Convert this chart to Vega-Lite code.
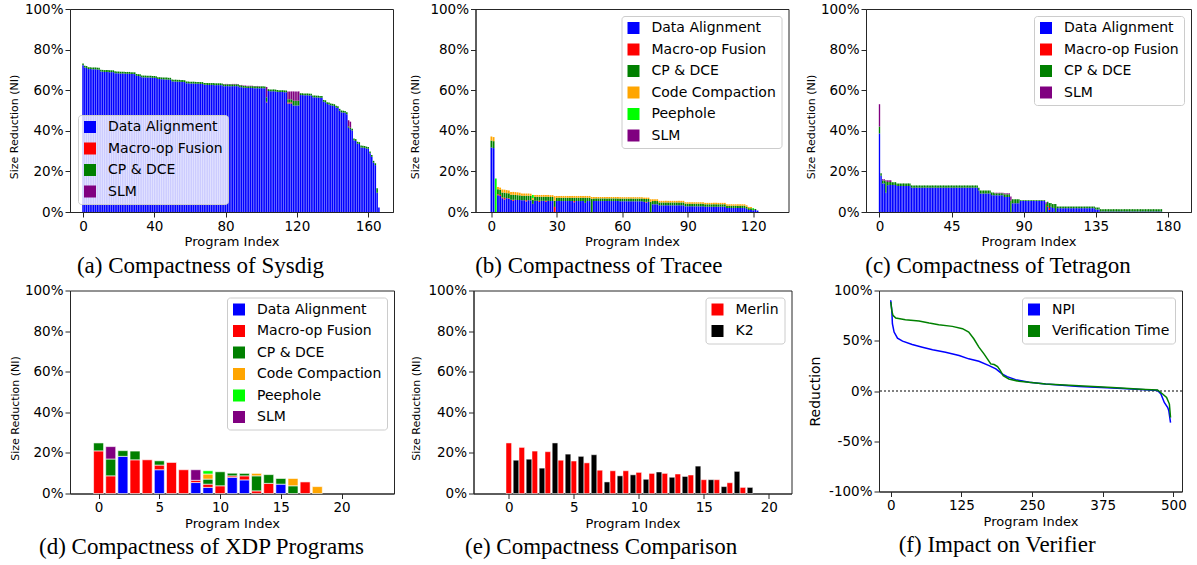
{
"$schema":"https://vega.github.io/schema/vega-lite/v6.json",
"padding":{"left":7,"top":1,"right":0,"bottom":0},
"spacing":4.5,
"resolve":{"scale":{"color":"independent"},"legend":{"color":"independent"}},
"config":{
 "font":"DejaVu Sans",
 "view":{"stroke":"#262626","strokeWidth":1},
 "axis":{"grid":false,"domainColor":"#262626","tickColor":"#262626","labelColor":"black","titleColor":"black","labelFont":"DejaVu Sans","titleFont":"DejaVu Sans","labelFontSize":13.5,"titleFontSize":13,"titleFontWeight":"normal","tickSize":5,"labelPadding":2,"labelFlush":false,"labelOverlap":false},
 "axisX":{"titlePadding":3},
 "axisY":{"titleFontSize":11},
 "legend":{"offset":7.3,"padding":5,"strokeColor":"#cccccc","fillColor":"rgba(255,255,255,0.8)","cornerRadius":3,"symbolType":"square","symbolSize":144,"symbolStrokeWidth":0,"labelFont":"DejaVu Sans","labelFontSize":14,"labelColor":"black","labelOffset":11,"rowPadding":7.5},
 "title":{"font":"Liberation Serif","fontSize":23,"fontWeight":"normal","color":"black","orient":"bottom","frame":"bounds","anchor":"middle","offset":6}
},
"datasets":{
"sysdig":[
{"i":0,"k1":72.3,"k3":0.9},{"i":1,"k1":71.2,"k3":0.9},{"i":2,"k1":71.0,"k3":0.9},{"i":3,"k1":70.4,"k3":0.9},{"i":4,"k1":70.4,"k3":0.9},{"i":5,"k1":70.3,"k3":0.9},{"i":6,"k1":70.3,"k3":0.9},{"i":7,"k1":70.3,"k3":0.9},{"i":8,"k1":70.2,"k3":0.9},{"i":9,"k1":70.1,"k3":0.9},
{"i":10,"k1":69.2,"k3":0.9},{"i":11,"k1":69.1,"k3":0.9},{"i":12,"k1":69.0,"k3":0.9},{"i":13,"k1":69.0,"k3":0.9},{"i":14,"k1":69.0,"k3":0.9},{"i":15,"k1":68.9,"k3":0.9},{"i":16,"k1":68.9,"k3":0.9},{"i":17,"k1":68.9,"k3":0.9},{"i":18,"k1":68.4,"k3":0.9},{"i":19,"k1":68.3,"k3":0.9},
{"i":20,"k1":68.3,"k3":0.9},{"i":21,"k1":68.2,"k3":0.9},{"i":22,"k1":68.2,"k3":0.9},{"i":23,"k1":68.2,"k3":0.9},{"i":24,"k1":68.1,"k3":0.9},{"i":25,"k1":68.1,"k3":0.9},{"i":26,"k1":68.1,"k3":0.9},{"i":27,"k1":68.0,"k3":0.9},{"i":28,"k1":68.0,"k3":0.9},{"i":29,"k1":67.9,"k3":0.9},
{"i":30,"k1":67.1,"k3":0.9},{"i":31,"k1":67.0,"k3":0.9},{"i":32,"k1":66.9,"k3":0.9},{"i":33,"k1":66.4,"k3":0.9},{"i":34,"k1":66.3,"k3":0.9},{"i":35,"k1":66.3,"k3":0.9},{"i":36,"k1":66.2,"k3":0.9},{"i":37,"k1":66.2,"k3":0.9},{"i":38,"k1":66.2,"k3":0.9},{"i":39,"k1":66.1,"k3":0.9},
{"i":40,"k1":66.1,"k3":0.9},{"i":41,"k1":66.0,"k3":0.9},{"i":42,"k1":65.5,"k3":0.9},{"i":43,"k1":65.5,"k3":0.9},{"i":44,"k1":65.4,"k3":0.9},{"i":45,"k1":65.4,"k3":0.9},{"i":46,"k1":65.3,"k3":0.9},{"i":47,"k1":65.3,"k3":0.9},{"i":48,"k1":65.2,"k3":0.9},{"i":49,"k1":65.2,"k3":0.9},
{"i":50,"k1":64.4,"k3":0.9},{"i":51,"k1":64.3,"k3":0.9},{"i":52,"k1":64.3,"k3":0.9},{"i":53,"k1":64.2,"k3":0.9},{"i":54,"k1":64.2,"k3":0.9},{"i":55,"k1":64.1,"k3":0.9},{"i":56,"k1":64.1,"k3":0.9},{"i":57,"k1":64.0,"k3":0.9},{"i":58,"k1":63.4,"k3":0.9},{"i":59,"k1":63.4,"k3":0.9},
{"i":60,"k1":63.3,"k3":0.9},{"i":61,"k1":63.3,"k3":0.9},{"i":62,"k1":63.3,"k3":0.9},{"i":63,"k1":63.2,"k3":0.9},{"i":64,"k1":63.2,"k3":0.9},{"i":65,"k1":63.2,"k3":0.9},{"i":66,"k1":63.1,"k3":0.9},{"i":67,"k1":63.1,"k3":0.9},{"i":68,"k1":62.7,"k3":0.9},{"i":69,"k1":62.7,"k3":0.9},
{"i":70,"k1":62.6,"k3":0.9},{"i":71,"k1":62.6,"k3":0.9},{"i":72,"k1":62.6,"k3":0.9},{"i":73,"k1":62.6,"k3":0.9},{"i":74,"k1":62.5,"k3":0.9},{"i":75,"k1":62.5,"k3":0.9},{"i":76,"k1":62.5,"k3":0.9},{"i":77,"k1":62.5,"k3":0.9},{"i":78,"k1":62.4,"k3":0.9},{"i":79,"k1":62.0,"k3":0.9,"k6":0.2},
{"i":80,"k1":62.0,"k3":0.9,"k6":0.2},{"i":81,"k1":62.0,"k3":0.9,"k6":0.2},{"i":82,"k1":62.0,"k3":0.9,"k6":0.2},{"i":83,"k1":62.0,"k3":0.9,"k6":0.2},{"i":84,"k1":62.0,"k3":0.9,"k6":0.2},{"i":85,"k1":62.0,"k3":0.9,"k6":0.2},{"i":86,"k1":62.0,"k3":0.9,"k6":0.2},{"i":87,"k1":62.0,"k3":0.9,"k6":0.2},{"i":88,"k1":61.5,"k3":0.9,"k6":0.2},{"i":89,"k1":61.5,"k3":0.9,"k6":0.2},
{"i":90,"k1":61.2,"k3":0.9,"k6":0.2},{"i":91,"k1":61.2,"k3":0.9,"k6":0.2},{"i":92,"k1":61.1,"k3":0.9,"k6":0.2},{"i":93,"k1":61.1,"k3":0.9,"k6":0.2},{"i":94,"k1":61.1,"k3":0.9,"k6":0.2},{"i":95,"k1":61.1,"k3":0.9,"k6":0.2},{"i":96,"k1":61.0,"k3":0.9,"k6":0.2},{"i":97,"k1":61.0,"k3":0.9,"k6":0.2},{"i":98,"k1":61.0,"k3":0.9,"k6":0.2},{"i":99,"k1":60.9,"k3":0.9,"k6":0.2},
{"i":100,"k1":61.0,"k3":0.9},{"i":101,"k1":61.0,"k3":0.9},{"i":102,"k1":60.9,"k3":0.9},{"i":103,"k1":54.0,"k2":0.3,"k3":2.2,"k6":5.1},{"i":104,"k1":59.6,"k3":0.9},{"i":105,"k1":59.5,"k3":0.9},{"i":106,"k1":59.5,"k3":0.9},{"i":107,"k1":59.5,"k3":0.9},{"i":108,"k1":59.4,"k3":0.9},{"i":109,"k1":59.2,"k3":0.9},
{"i":110,"k1":59.1,"k3":0.9},{"i":111,"k1":59.1,"k3":0.9},{"i":112,"k1":59.1,"k3":0.9},{"i":113,"k1":59.0,"k3":0.9},{"i":114,"k1":59.0,"k3":0.9},{"i":115,"k1":53.5,"k2":0.5,"k3":1.5,"k6":3.9},{"i":116,"k1":53.5,"k2":0.5,"k3":1.5,"k6":3.9},{"i":117,"k1":53.5,"k2":0.5,"k3":1.5,"k6":3.9},{"i":118,"k1":52.5,"k3":2.3,"k6":4.6},{"i":119,"k1":52.5,"k3":2.3,"k6":4.6},
{"i":120,"k1":52.5,"k3":2.3,"k6":4.6},{"i":121,"k1":52.5,"k3":2.3,"k6":4.6},{"i":122,"k1":57.6,"k3":0.9},{"i":123,"k1":57.6,"k3":0.9},{"i":124,"k1":57.5,"k3":0.9},{"i":125,"k1":57.5,"k3":0.9},{"i":126,"k1":57.5,"k3":0.9},{"i":127,"k1":57.4,"k3":0.9},{"i":128,"k1":57.4,"k3":0.9},{"i":129,"k1":56.5,"k3":0.9},
{"i":130,"k1":56.5,"k3":0.9},{"i":131,"k1":56.4,"k3":0.9},{"i":132,"k1":56.4,"k3":0.9},{"i":133,"k1":56.3,"k3":0.9},{"i":134,"k1":56.3,"k3":0.9},{"i":135,"k1":54.3,"k3":0.9},{"i":136,"k1":54.1,"k3":0.9},{"i":137,"k1":53.2,"k3":0.9},{"i":138,"k1":53.0,"k3":0.9},{"i":139,"k1":52.6,"k3":0.9},
{"i":140,"k1":52.4,"k3":0.9},{"i":141,"k1":52.2,"k3":0.9},{"i":142,"k1":51.5,"k3":0.9},{"i":143,"k1":51.2,"k3":0.9},{"i":144,"k1":49.9,"k3":0.9},{"i":145,"k1":49.1,"k3":0.9},{"i":146,"k1":49.0,"k3":0.9},{"i":147,"k1":48.9,"k3":0.9},{"i":148,"k1":48.2,"k3":0.9},{"i":149,"k1":41.5,"k3":0.7,"k6":3.0},
{"i":150,"k1":40.8,"k3":0.7,"k6":3.0},{"i":151,"k1":40.1,"k3":0.9},{"i":152,"k1":35.3,"k3":0.9},{"i":153,"k1":35.0,"k3":0.9},{"i":154,"k1":33.7,"k3":0.9},{"i":155,"k1":33.5,"k3":0.9},{"i":156,"k1":31.8,"k3":0.9},{"i":157,"k1":31.7,"k3":0.9},{"i":158,"k1":31.6,"k3":0.9},{"i":159,"k1":31.3,"k3":0.9},
{"i":160,"k1":31.1,"k3":0.9},{"i":161,"k1":28.9,"k3":0.9},{"i":162,"k1":27.2,"k3":0.9},{"i":163,"k1":24.3,"k3":0.9},{"i":164,"k1":23.1,"k3":0.9},{"i":165,"k1":9.5,"k3":2.2},{"i":166,"k1":2.2}
],
"tracee":[
{"i":0,"k1":31.8,"k3":3.4,"k4":2.0},{"i":1,"k1":31.5,"k3":3.4,"k4":2.0},{"i":2,"k5":16.5},{"i":3,"k1":8.2,"k2":0.5,"k3":2.5,"k4":1.1},{"i":4,"k1":7.9,"k2":0.5,"k3":2.5,"k4":1.1},{"i":5,"k1":6.8,"k2":0.4,"k3":2.4,"k4":1.5},{"i":6,"k1":6.2,"k2":0.8,"k3":2.5,"k4":1.5},{"i":7,"k1":6.8,"k3":2.5,"k4":1.5},{"i":8,"k1":6.5,"k2":0.3,"k3":2.4,"k4":1.4},{"i":9,"k1":6.0,"k3":2.5,"k4":1.4},
{"i":10,"k1":5.5,"k2":0.5,"k3":2.5,"k4":1.4},{"i":11,"k1":6.0,"k3":2.4,"k4":1.4},{"i":12,"k1":5.9,"k3":2.4,"k4":1.4},{"i":13,"k1":5.9,"k3":2.3,"k4":1.3},{"i":14,"k1":5.8,"k3":2.2,"k4":1.1},{"i":15,"k1":5.8,"k3":2.2,"k4":1.1},{"i":16,"k1":5.2,"k2":0.6,"k3":2.2,"k4":1.1},{"i":17,"k1":5.8,"k3":2.2,"k4":1.1},{"i":18,"k1":5.7,"k3":2.2,"k4":1.1},{"i":19,"k1":4.0,"k3":2.0,"k4":0.9,"k5":1.5},
{"i":20,"k1":5.5,"k3":2.0,"k4":0.9},{"i":21,"k1":5.5,"k3":2.0,"k4":0.9},{"i":22,"k1":4.9,"k2":0.6,"k3":2.0,"k4":0.9},{"i":23,"k1":5.5,"k3":2.0,"k4":0.9},{"i":24,"k1":5.5,"k3":2.0,"k4":0.9},{"i":25,"k1":5.1,"k2":0.4,"k3":2.0,"k4":0.9},{"i":26,"k1":5.5,"k3":2.0,"k4":0.9},{"i":27,"k1":5.4,"k3":2.0,"k4":0.9},{"i":28,"k1":5.4,"k3":2.0,"k4":0.9},{"i":29,"k2":2.5,"k3":3.0,"k4":2.3},
{"i":30,"k1":5.4,"k3":1.6,"k4":0.9},{"i":31,"k1":5.4,"k3":1.6,"k4":0.9},{"i":32,"k1":5.4,"k3":1.6,"k4":0.9},{"i":33,"k1":5.4,"k3":1.6,"k4":0.9},{"i":34,"k1":5.4,"k3":1.6,"k4":0.9},{"i":35,"k1":5.4,"k3":1.6,"k4":0.9},{"i":36,"k1":5.4,"k3":1.6,"k4":0.9},{"i":37,"k1":5.4,"k3":1.6,"k4":0.9},{"i":38,"k1":4.8,"k2":0.6,"k3":1.6,"k4":0.9},{"i":39,"k1":5.4,"k3":1.6,"k4":0.9},
{"i":40,"k1":5.4,"k3":1.6,"k4":0.9},{"i":41,"k1":5.4,"k3":1.6,"k4":0.9},{"i":42,"k1":5.4,"k3":1.6,"k4":0.9},{"i":43,"k1":4.5,"k3":2.5,"k4":0.9},{"i":44,"k1":5.4,"k3":1.6,"k4":0.9},{"i":45,"k1":5.4,"k3":1.6,"k4":0.9},{"i":46,"k3":6.5,"k4":0.9},{"i":47,"k1":5.4,"k3":1.3,"k4":0.7},{"i":48,"k1":5.4,"k3":1.3,"k4":0.7},{"i":49,"k1":5.4,"k3":1.3,"k4":0.7},
{"i":50,"k1":5.4,"k3":1.3,"k4":0.7},{"i":51,"k1":5.4,"k3":1.3,"k4":0.7},{"i":52,"k1":5.4,"k3":1.3,"k4":0.7},{"i":53,"k1":5.4,"k3":1.3,"k4":0.7},{"i":54,"k1":5.4,"k3":1.3,"k4":0.7},{"i":55,"k1":5.4,"k3":1.3,"k4":0.7},{"i":56,"k1":5.4,"k3":1.3,"k4":0.7},{"i":57,"k1":5.4,"k3":1.3,"k4":0.7},{"i":58,"k1":5.4,"k3":1.3,"k4":0.7},{"i":59,"k1":5.3,"k3":1.3,"k4":0.7},
{"i":60,"k1":5.3,"k3":1.3,"k4":0.7},{"i":61,"k1":5.3,"k3":1.3,"k4":0.7},{"i":62,"k1":5.3,"k3":1.3,"k4":0.7},{"i":63,"k1":5.3,"k3":1.3,"k4":0.7},{"i":64,"k1":5.3,"k3":1.3,"k4":0.7},{"i":65,"k1":5.3,"k3":1.3,"k4":0.7},{"i":66,"k1":5.3,"k3":1.3,"k4":0.7},{"i":67,"k1":5.3,"k3":1.3,"k4":0.7},{"i":68,"k1":5.3,"k3":1.3,"k4":0.7},{"i":69,"k1":5.3,"k3":1.3,"k4":0.7},
{"i":70,"k1":5.0,"k3":1.4,"k4":0.7},{"i":71,"k1":4.6,"k2":0.4,"k3":1.4,"k4":0.7},{"i":72,"k1":5.0,"k3":1.4,"k4":0.7},{"i":73,"k3":5.0,"k4":1.3},{"i":74,"k1":3.8,"k3":1.6,"k4":0.9},{"i":75,"k1":3.8,"k3":1.6,"k4":0.9},{"i":76,"k1":3.8,"k3":1.6,"k4":0.9},{"i":77,"k1":3.3,"k3":1.4,"k4":0.8},{"i":78,"k1":3.3,"k3":1.4,"k4":0.8},{"i":79,"k1":3.3,"k3":1.4,"k4":0.8},
{"i":80,"k1":3.3,"k3":1.4,"k4":0.8},{"i":81,"k1":3.3,"k3":1.4,"k4":0.8},{"i":82,"k1":3.3,"k3":1.4,"k4":0.8},{"i":83,"k1":3.3,"k3":1.4,"k4":0.8},{"i":84,"k1":3.3,"k3":1.4,"k4":0.8},{"i":85,"k1":3.3,"k3":1.4,"k4":0.8},{"i":86,"k1":3.3,"k3":1.4,"k4":0.8},{"i":87,"k1":3.3,"k3":1.4,"k4":0.8},{"i":88,"k1":3.3,"k3":1.4,"k4":0.8},{"i":89,"k1":2.8,"k3":1.3,"k4":0.7},
{"i":90,"k1":2.8,"k3":1.3,"k4":0.7},{"i":91,"k1":2.8,"k3":1.3,"k4":0.7},{"i":92,"k1":2.8,"k3":1.3,"k4":0.7},{"i":93,"k1":2.8,"k3":1.3,"k4":0.7},{"i":94,"k1":2.8,"k3":1.3,"k4":0.7},{"i":95,"k1":2.8,"k3":1.3,"k4":0.7},{"i":96,"k1":2.8,"k3":1.3,"k4":0.7},{"i":97,"k1":2.8,"k3":1.3,"k4":0.7},{"i":98,"k1":2.6,"k3":1.2,"k4":0.7},{"i":99,"k1":2.6,"k3":1.2,"k4":0.7},
{"i":100,"k1":2.6,"k3":1.2,"k4":0.7},{"i":101,"k1":2.6,"k3":1.2,"k4":0.7},{"i":102,"k1":2.6,"k3":1.2,"k4":0.7},{"i":103,"k1":2.6,"k3":1.2,"k4":0.7},{"i":104,"k1":2.6,"k3":1.2,"k4":0.7},{"i":105,"k1":2.6,"k3":1.2,"k4":0.7},{"i":106,"k1":2.6,"k3":1.2,"k4":0.7},{"i":107,"k1":2.6,"k3":1.2,"k4":0.7},{"i":108,"k1":2.0,"k3":1.1,"k4":0.7},{"i":109,"k1":2.0,"k3":1.1,"k4":0.7},
{"i":110,"k1":2.0,"k3":1.1,"k4":0.7},{"i":111,"k1":2.0,"k3":1.1,"k4":0.7},{"i":112,"k1":2.0,"k3":1.1,"k4":0.7},{"i":113,"k1":2.0,"k3":1.1,"k4":0.7},{"i":114,"k1":2.0,"k3":1.1,"k4":0.7},{"i":115,"k1":2.0,"k3":1.1,"k4":0.7},{"i":116,"k1":2.0,"k3":1.1,"k4":0.7},{"i":117,"k1":1.6,"k3":1.0,"k4":0.7},{"i":118,"k1":1.0,"k3":0.9,"k4":0.6},{"i":119,"k1":1.0,"k3":0.9,"k4":0.6},
{"i":120,"k1":0.8,"k3":0.6,"k5":0.5},{"i":121,"k1":1.0,"k3":0.5},{"i":122,"k1":0.7}
],
"tetragon":[
{"i":0,"k1":38.7,"k3":3.4,"k6":11.0},{"i":1,"k1":17.8,"k3":1.3},{"i":2,"k1":14.0,"k3":1.5,"k6":0.6},{"i":3,"k1":14.0,"k3":1.5,"k6":0.6},{"i":4,"k1":9.5,"k3":5.6,"k6":0.5},{"i":5,"k1":13.2,"k3":1.6,"k6":0.8},{"i":6,"k1":13.3,"k3":1.5,"k6":0.8},{"i":7,"k1":13.3,"k3":1.5,"k6":0.8},{"i":8,"k1":13.3,"k3":1.4},{"i":9,"k1":13.3,"k3":1.4},
{"i":10,"k1":13.3,"k3":1.4},{"i":11,"k1":12.8,"k3":1.3},{"i":12,"k1":12.8,"k3":1.3},{"i":13,"k1":12.8,"k3":1.3},{"i":14,"k1":12.8,"k3":1.3},{"i":15,"k1":12.8,"k3":1.3},{"i":16,"k1":12.8,"k3":1.3},{"i":17,"k1":12.8,"k3":1.3},{"i":18,"k1":12.8,"k3":1.3},{"i":19,"k1":12.8,"k3":1.3},
{"i":20,"k1":12.0,"k3":1.1},{"i":21,"k1":12.0,"k3":1.1},{"i":22,"k1":12.0,"k3":1.1},{"i":23,"k1":12.0,"k3":1.1},{"i":24,"k1":12.0,"k3":1.1},{"i":25,"k1":12.0,"k3":1.1},{"i":26,"k1":12.0,"k3":1.1},{"i":27,"k1":12.0,"k3":1.1},{"i":28,"k1":12.0,"k3":1.1},{"i":29,"k1":12.0,"k3":1.1},
{"i":30,"k1":12.0,"k3":1.1},{"i":31,"k1":12.0,"k3":1.1},{"i":32,"k1":12.0,"k3":1.1},{"i":33,"k1":12.0,"k3":1.1},{"i":34,"k1":12.0,"k3":1.1},{"i":35,"k1":12.0,"k3":1.1},{"i":36,"k1":12.0,"k3":1.1},{"i":37,"k1":12.0,"k3":1.1},{"i":38,"k1":12.0,"k3":1.1},{"i":39,"k1":12.0,"k3":1.1},
{"i":40,"k1":12.0,"k3":1.1},{"i":41,"k1":12.0,"k3":1.1},{"i":42,"k1":12.0,"k3":1.1},{"i":43,"k1":12.0,"k3":1.1},{"i":44,"k1":12.0,"k3":1.1},{"i":45,"k1":12.0,"k3":1.1},{"i":46,"k1":12.0,"k3":1.1},{"i":47,"k1":12.0,"k3":1.1},{"i":48,"k1":12.0,"k3":1.1},{"i":49,"k1":12.0,"k3":1.1},
{"i":50,"k1":12.0,"k3":1.1},{"i":51,"k1":12.0,"k3":1.1},{"i":52,"k1":12.0,"k3":1.1},{"i":53,"k1":12.0,"k3":1.1},{"i":54,"k1":12.0,"k3":1.1},{"i":55,"k1":12.0,"k3":1.1},{"i":56,"k1":12.0,"k3":1.1},{"i":57,"k1":12.0,"k3":1.1},{"i":58,"k1":12.0,"k3":1.1},{"i":59,"k1":12.0,"k3":1.1},
{"i":60,"k1":12.0,"k3":1.1},{"i":61,"k1":12.0,"k3":1.1},{"i":62,"k1":10.6,"k3":1.3},{"i":63,"k1":9.1,"k3":1.5},{"i":64,"k1":9.1,"k3":1.5},{"i":65,"k1":9.1,"k3":1.5},{"i":66,"k1":9.1,"k3":1.5},{"i":67,"k1":9.1,"k3":1.5},{"i":68,"k1":9.1,"k3":1.5},{"i":69,"k1":9.1,"k3":1.5},
{"i":70,"k1":8.3,"k3":1.3},{"i":71,"k1":8.3,"k3":1.3},{"i":72,"k1":8.2,"k3":1.0,"k6":0.3},{"i":73,"k1":8.2,"k3":1.0,"k6":0.3},{"i":74,"k1":8.2,"k3":1.0,"k6":0.3},{"i":75,"k1":8.2,"k3":1.0,"k6":0.3},{"i":76,"k1":8.2,"k3":1.0,"k6":0.3},{"i":77,"k1":8.2,"k3":1.0,"k6":0.3},{"i":78,"k1":7.4,"k3":1.3,"k6":0.5},{"i":79,"k1":7.4,"k3":1.3,"k6":0.5},
{"i":80,"k1":7.4,"k3":1.3,"k6":0.5},{"i":81,"k1":7.4,"k3":1.3,"k6":0.5},{"i":82,"k3":5.6,"k6":2.0},{"i":83,"k1":4.3,"k3":2.0},{"i":84,"k1":4.3,"k3":2.0},{"i":85,"k1":4.3,"k3":2.0},{"i":86,"k1":4.3,"k3":2.0},{"i":87,"k1":4.3,"k3":2.0},{"i":88,"k1":5.4,"k3":0.4},{"i":89,"k1":5.4,"k3":0.4},
{"i":90,"k1":5.4,"k3":0.4},{"i":91,"k1":5.4,"k3":0.4},{"i":92,"k1":5.4,"k3":0.4},{"i":93,"k1":5.4,"k3":0.4},{"i":94,"k1":5.4,"k3":0.4},{"i":95,"k1":5.4,"k3":0.4},{"i":96,"k1":5.4,"k3":0.4},{"i":97,"k1":5.4,"k3":0.4},{"i":98,"k1":5.4,"k3":0.4},{"i":99,"k1":5.4,"k3":0.4},
{"i":100,"k1":5.4,"k3":0.4},{"i":101,"k1":5.4,"k3":0.4},{"i":102,"k1":5.4,"k3":0.4},{"i":103,"k1":5.4,"k3":0.4},{"i":104,"k3":4.0,"k6":0.8},{"i":105,"k1":2.5,"k2":0.5,"k3":2.0},{"i":106,"k1":1.0,"k2":1.0,"k3":2.4},{"i":107,"k1":2.6,"k3":1.8},{"i":108,"k1":2.0,"k3":1.9},{"i":109,"k1":2.0,"k3":1.9},
{"i":110,"k3":3.9},{"i":111,"k1":1.9,"k3":0.8},{"i":112,"k1":1.9,"k3":0.8},{"i":113,"k1":1.9,"k3":0.8},{"i":114,"k1":1.9,"k3":0.8},{"i":115,"k1":1.9,"k3":0.8},{"i":116,"k1":1.9,"k3":0.8},{"i":117,"k1":1.9,"k3":0.8},{"i":118,"k1":1.9,"k3":0.8},{"i":119,"k1":1.9,"k3":0.8},
{"i":120,"k1":1.9,"k3":0.8},{"i":121,"k1":1.9,"k3":0.8},{"i":122,"k1":1.9,"k3":0.8},{"i":123,"k1":1.9,"k3":0.8},{"i":124,"k1":1.9,"k3":0.8},{"i":125,"k1":1.9,"k3":0.8},{"i":126,"k1":1.9,"k3":0.8},{"i":127,"k1":1.9,"k3":0.8},{"i":128,"k1":1.9,"k3":0.8},{"i":129,"k1":1.9,"k3":0.8},
{"i":130,"k1":1.9,"k3":0.8},{"i":131,"k1":1.9,"k3":0.8},{"i":132,"k1":1.9,"k3":0.8},{"i":133,"k1":1.9,"k3":0.8},{"i":134,"k1":1.9,"k3":0.8},{"i":135,"k1":1.2,"k3":1.0},{"i":136,"k1":1.2,"k3":1.0},{"i":137,"k1":1.2,"k3":1.0},{"i":138,"k1":0.2,"k3":1.2},{"i":139,"k1":0.2,"k3":1.2},
{"i":140,"k1":0.2,"k3":1.2},{"i":141,"k1":0.2,"k3":1.2},{"i":142,"k1":0.2,"k3":1.2},{"i":143,"k1":0.2,"k3":1.2},{"i":144,"k1":0.2,"k3":1.2},{"i":145,"k1":0.2,"k3":1.2},{"i":146,"k1":0.2,"k3":1.2},{"i":147,"k1":0.2,"k3":1.2},{"i":148,"k1":0.2,"k3":1.2},{"i":149,"k1":0.2,"k3":1.2},
{"i":150,"k1":0.2,"k3":1.2},{"i":151,"k1":0.2,"k3":1.2},{"i":152,"k1":0.2,"k3":1.2},{"i":153,"k1":0.2,"k3":1.2},{"i":154,"k1":0.2,"k3":1.2},{"i":155,"k1":0.2,"k3":1.2},{"i":156,"k1":0.2,"k3":1.2},{"i":157,"k1":0.2,"k3":1.2},{"i":158,"k1":0.2,"k3":1.2},{"i":159,"k1":0.2,"k3":1.2},
{"i":160,"k1":0.2,"k3":1.2},{"i":161,"k1":0.2,"k3":1.2},{"i":162,"k1":0.2,"k3":1.2},{"i":163,"k1":0.2,"k3":1.2},{"i":164,"k1":0.2,"k3":1.2},{"i":165,"k1":0.2,"k3":1.2},{"i":166,"k1":0.2,"k3":1.2},{"i":167,"k1":0.2,"k3":1.2},{"i":168,"k1":0.2,"k3":1.2},{"i":169,"k1":0.2,"k3":1.2},
{"i":170,"k1":0.2,"k3":1.2},{"i":171,"k1":0.2,"k3":1.2},{"i":172,"k1":0.2,"k3":1.2},{"i":173,"k1":0.2,"k3":1.2},{"i":174,"k1":0.2,"k3":1.2},{"i":175,"k1":0.2,"k3":1.2},{"i":176,"k1":0.2,"k3":1.2}
],
"xdp":[
{"i":0,"k2":21.0,"k3":3.9},{"i":1,"k2":8.7,"k3":8.3,"k6":6.1},{"i":2,"k1":18.3,"k3":2.8},{"i":3,"k2":16.6,"k3":4.3},{"i":4,"k2":16.6},{"i":5,"k1":11.7,"k2":2.3,"k3":2.1},{"i":6,"k2":15.3},{"i":7,"k2":11.7},{"i":8,"k1":5.4,"k2":1.1,"k6":5.2},{"i":9,"k1":3.0,"k2":1.6,"k3":2.5,"k4":2.5,"k5":1.6},
{"i":10,"k2":3.8,"k3":6.9},{"i":11,"k1":8.0,"k2":0.7,"k3":1.3},{"i":12,"k1":6.7,"k2":2.0,"k3":1.2},{"i":13,"k2":1.3,"k3":7.4,"k4":1.2},{"i":14,"k2":5.0,"k3":4.3},{"i":15,"k1":4.6,"k3":2.8},{"i":16,"k3":3.8,"k4":3.6},{"i":17,"k2":5.7},{"i":18,"k4":3.4}
],
"cmp":[
{"i":0,"s":"Merlin","v":24.9},{"i":0,"s":"K2","v":16.4},{"i":1,"s":"Merlin","v":22.7},{"i":1,"s":"K2","v":16.9},{"i":2,"s":"Merlin","v":20.9},{"i":2,"s":"K2","v":12.5},{"i":3,"s":"Merlin","v":20.6},{"i":3,"s":"K2","v":24.9},{"i":4,"s":"Merlin","v":16.4},{"i":4,"s":"K2","v":19.4},
{"i":5,"s":"Merlin","v":16.0},{"i":5,"s":"K2","v":18.3},{"i":6,"s":"Merlin","v":15.1},{"i":6,"s":"K2","v":19.1},{"i":7,"s":"Merlin","v":11.5},{"i":7,"s":"K2","v":5.7},{"i":8,"s":"Merlin","v":11.2},{"i":8,"s":"K2","v":8.7},{"i":9,"s":"Merlin","v":11.2},{"i":9,"s":"K2","v":9.2},
{"i":10,"s":"Merlin","v":10.4},{"i":10,"s":"K2","v":7.0},{"i":11,"s":"Merlin","v":9.9},{"i":11,"s":"K2","v":10.6},{"i":12,"s":"Merlin","v":9.9},{"i":12,"s":"K2","v":8.0},{"i":13,"s":"Merlin","v":9.6},{"i":13,"s":"K2","v":8.4},{"i":14,"s":"Merlin","v":9.1},{"i":14,"s":"K2","v":13.5},
{"i":15,"s":"Merlin","v":6.8},{"i":15,"s":"K2","v":6.8},{"i":16,"s":"Merlin","v":6.8},{"i":16,"s":"K2","v":3.4},{"i":17,"s":"Merlin","v":5.3},{"i":17,"s":"K2","v":10.9},{"i":18,"s":"Merlin","v":3.0},{"i":18,"s":"K2","v":3.0}
],
"verifier":[
{"i":0,"s":"NPI","v":90.3},{"i":2,"s":"NPI","v":80},{"i":3,"s":"NPI","v":67},{"i":6,"s":"NPI","v":58.6},{"i":12,"s":"NPI","v":52.6},{"i":21,"s":"NPI","v":49.6},{"i":38,"s":"NPI","v":46.3},{"i":56,"s":"NPI","v":43.6},{"i":74,"s":"NPI","v":41},{"i":97,"s":"NPI","v":38.6},
{"i":121,"s":"NPI","v":35.3},{"i":138,"s":"NPI","v":32},{"i":156,"s":"NPI","v":29.6},{"i":174,"s":"NPI","v":25.3},{"i":186,"s":"NPI","v":22},{"i":197,"s":"NPI","v":17},{"i":206,"s":"NPI","v":14.3},{"i":221,"s":"NPI","v":11.3},{"i":245,"s":"NPI","v":8.6},{"i":274,"s":"NPI","v":7},
{"i":333,"s":"NPI","v":4.6},{"i":392,"s":"NPI","v":3},{"i":451,"s":"NPI","v":1.3},{"i":472,"s":"NPI","v":0.6},{"i":478,"s":"NPI","v":-3},{"i":484,"s":"NPI","v":-11.4},{"i":490,"s":"NPI","v":-16.4},{"i":492,"s":"NPI","v":-19.7},{"i":495,"s":"NPI","v":-31.4},
{"i":0,"s":"Verification Time","v":88.6},{"i":2,"s":"Verification Time","v":80},{"i":4,"s":"Verification Time","v":75.3},{"i":9,"s":"Verification Time","v":72.6},{"i":26,"s":"Verification Time","v":71},{"i":50,"s":"Verification Time","v":69.6},{"i":68,"s":"Verification Time","v":67.6},{"i":85,"s":"Verification Time","v":66},{"i":109,"s":"Verification Time","v":64.3},{"i":127,"s":"Verification Time","v":62},
{"i":138,"s":"Verification Time","v":58.6},{"i":147,"s":"Verification Time","v":52},{"i":156,"s":"Verification Time","v":43.6},{"i":165,"s":"Verification Time","v":37},{"i":171,"s":"Verification Time","v":32},{"i":177,"s":"Verification Time","v":27},{"i":183,"s":"Verification Time","v":26.3},{"i":189,"s":"Verification Time","v":24.3},{"i":194,"s":"Verification Time","v":20.3},{"i":199,"s":"Verification Time","v":15.3},
{"i":209,"s":"Verification Time","v":12},{"i":227,"s":"Verification Time","v":9.6},{"i":274,"s":"Verification Time","v":7},{"i":333,"s":"Verification Time","v":5.3},{"i":392,"s":"Verification Time","v":3.6},{"i":451,"s":"Verification Time","v":1.6},{"i":472,"s":"Verification Time","v":1},{"i":481,"s":"Verification Time","v":-3},{"i":488,"s":"Verification Time","v":-6.4},{"i":493,"s":"Verification Time","v":-13},{"i":495,"s":"Verification Time","v":-26.4}
]
},
"vconcat":[
{"hconcat":[
 {"width":323,"height":203,"title":{"text":"(a) Compactness of Sysdig"},"data":{"name":"sysdig"},
  "transform":[{"fold":["k1","k2","k3","k6"]},{"filter":"datum.value > 0"}],
  "mark":{"type":"bar","width":1.5},
  "encoding":{
   "x":{"field":"i","type":"quantitative","scale":{"domain":[-4.5,171.1],"nice":false,"zero":false},"axis":{"values":[0,40,80,120,160],"title":"Program Index"}},
   "y":{"field":"value","type":"quantitative","stack":"zero","scale":{"domain":[0,100],"nice":false},"axis":{"values":[0,20,40,60,80,100],"labelExpr":"datum.value + '%'","title":"Size Reduction (NI)","titleY":117.5,"minExtent":46,"maxExtent":46,"titlePadding":5}},
   "color":{"field":"key","type":"nominal","scale":{"domain":["k1","k2","k3","k6"],"range":["#0000ff","#ff0000","#008000","#800080"]},"legend":{"title":null,"orient":"bottom-left","offset":7.7,"labelExpr":"datum.label=='k1'?'Data Alignment':datum.label=='k2'?'Macro-op Fusion':datum.label=='k3'?'CP & DCE':datum.label=='k4'?'Code Compaction':datum.label=='k5'?'Peephole':'SLM'"}},
   "order":{"field":"key","sort":"ascending"}}},
 {"width":313,"height":203,"title":{"text":"(b) Compactness of Tracee"},"data":{"name":"tracee"},
  "transform":[{"fold":["k1","k2","k3","k4","k5","k6"]},{"filter":"datum.value > 0"}],
  "mark":{"type":"bar","width":1.8},
  "encoding":{
   "x":{"field":"i","type":"quantitative","scale":{"domain":[-5.0,133.9],"nice":false,"zero":false},"axis":{"values":[0,30,60,90,120],"title":"Program Index"}},
   "y":{"field":"value","type":"quantitative","stack":"zero","scale":{"domain":[0,100],"nice":false},"axis":{"values":[0,20,40,60,80,100],"labelExpr":"datum.value + '%'","title":"Size Reduction (NI)","titleY":117.5,"minExtent":47,"maxExtent":47,"titlePadding":8.5}},
   "color":{"field":"key","type":"nominal","scale":{"domain":["k1","k2","k3","k4","k5","k6"],"range":["#0000ff","#ff0000","#008000","#ffa500","#00ff00","#800080"]},"legend":{"title":null,"orient":"top-right","labelExpr":"datum.label=='k1'?'Data Alignment':datum.label=='k2'?'Macro-op Fusion':datum.label=='k3'?'CP & DCE':datum.label=='k4'?'Code Compaction':datum.label=='k5'?'Peephole':'SLM'"}},
   "order":{"field":"key","sort":"ascending"}}},
 {"width":325,"height":203,"title":{"text":"(c) Compactness of Tetragon"},"data":{"name":"tetragon"},
  "transform":[{"fold":["k1","k2","k3","k6"]},{"filter":"datum.value > 0"}],
  "mark":{"type":"bar","width":1.35},
  "encoding":{
   "x":{"field":"i","type":"quantitative","scale":{"domain":[-5.3,191.3],"nice":false,"zero":false},"axis":{"values":[0,45,90,135,180],"title":"Program Index"}},
   "y":{"field":"value","type":"quantitative","stack":"zero","scale":{"domain":[0,100],"nice":false},"axis":{"values":[0,20,40,60,80,100],"labelExpr":"datum.value + '%'","title":"Size Reduction (NI)","titleY":117.5,"minExtent":46,"maxExtent":46,"titlePadding":4}},
   "color":{"field":"key","type":"nominal","scale":{"domain":["k1","k2","k3","k6"],"range":["#0000ff","#ff0000","#008000","#800080"]},"legend":{"title":null,"orient":"top-right","labelExpr":"datum.label=='k1'?'Data Alignment':datum.label=='k2'?'Macro-op Fusion':datum.label=='k3'?'CP & DCE':datum.label=='k4'?'Code Compaction':datum.label=='k5'?'Peephole':'SLM'"}},
   "order":{"field":"key","sort":"ascending"}}}
 ],"spacing":14.5,"resolve":{"scale":{"color":"independent"},"legend":{"color":"independent"}}},
{"hconcat":[
 {"width":324,"height":203,"title":{"text":"(d) Compactness of XDP Programs"},"data":{"name":"xdp"},
  "transform":[{"fold":["k1","k2","k3","k4","k5","k6"]},{"filter":"datum.value > 0"}],
  "mark":{"type":"bar","width":10,"stroke":"white","strokeWidth":0.6},
  "encoding":{
   "x":{"field":"i","type":"quantitative","scale":{"domain":[-1.94,23.9],"nice":false,"zero":false},"axis":{"values":[0,5,10,15,20],"title":"Program Index"}},
   "y":{"field":"value","type":"quantitative","stack":"zero","scale":{"domain":[0,100],"nice":false},"axis":{"values":[0,20,40,60,80,100],"labelExpr":"datum.value + '%'","title":"Size Reduction (NI)","titleY":117.5,"minExtent":45,"maxExtent":45,"titlePadding":5}},
   "color":{"field":"key","type":"nominal","scale":{"domain":["k1","k2","k3","k4","k5","k6"],"range":["#0000ff","#ff0000","#008000","#ffa500","#00ff00","#800080"]},"legend":{"title":null,"orient":"top-right","labelExpr":"datum.label=='k1'?'Data Alignment':datum.label=='k2'?'Macro-op Fusion':datum.label=='k3'?'CP & DCE':datum.label=='k4'?'Code Compaction':datum.label=='k5'?'Peephole':'SLM'"}},
   "order":{"field":"key","sort":"ascending"}}},
 {"width":318,"height":203,"title":{"text":"(e) Compactness Comparison"},"data":{"name":"cmp"},
  "encoding":{
   "x":{"field":"i","type":"quantitative","scale":{"domain":[-2.33,21.36],"nice":false,"zero":false},"axis":{"values":[0,5,10,15,20],"title":"Program Index"}},
   "y":{"field":"v","type":"quantitative","scale":{"domain":[0,100],"nice":false},"axis":{"values":[0,20,40,60,80,100],"labelExpr":"datum.value + '%'","title":"Size Reduction (NI)","titleY":117.5,"minExtent":45,"maxExtent":45,"titlePadding":6.7}},
   "color":{"field":"s","type":"nominal","scale":{"domain":["Merlin","K2"],"range":["#ff0000","#000000"]},"legend":{"title":null,"orient":"top-right"}}},
  "layer":[
   {"transform":[{"filter":"datum.s == 'Merlin'"}],"mark":{"type":"bar","width":5.6,"stroke":"white","strokeWidth":0.5}},
   {"transform":[{"filter":"datum.s == 'K2'"}],"mark":{"type":"bar","width":5.6,"xOffset":7.2,"stroke":"white","strokeWidth":0.5}}
  ]},
 {"width":303,"height":201,"title":{"text":"(f) Impact on Verifier"},"data":{"name":"verifier"},
  "layer":[
   {"mark":{"type":"rule","strokeDash":[1.5,2.5],"color":"#808080","strokeWidth":1.2},"encoding":{"y":{"datum":0,"type":"quantitative"}}},
   {"mark":{"type":"line","strokeWidth":1.5},
    "encoding":{
     "x":{"field":"i","type":"quantitative","scale":{"domain":[-20.7,515.3],"nice":false,"zero":false},"axis":{"values":[0,125,250,375,500],"title":"Program Index"}},
     "y":{"field":"v","type":"quantitative","scale":{"domain":[-100,100],"nice":false},"axis":{"values":[-100,-50,0,50,100],"labelExpr":"datum.value + '%'","title":"Reduction","titleFontSize":14,"minExtent":52,"maxExtent":52,"titlePadding":5}},
     "color":{"field":"s","type":"nominal","scale":{"domain":["NPI","Verification Time"],"range":["#0000ff","#008000"]},"legend":{"title":null,"orient":"top-right","symbolType":"square","encode":{"symbols":{"update":{"fill":{"signal":"datum.value == 'NPI' ? '#0000ff' : '#008000'"},"fillOpacity":{"value":1},"stroke":{"value":"transparent"},"strokeWidth":{"value":0},"size":{"value":144},"shape":{"value":"square"}}}}}}}}
  ]}
 ],"spacing":14.5,"resolve":{"scale":{"color":"independent"},"legend":{"color":"independent"}}}
]
}
